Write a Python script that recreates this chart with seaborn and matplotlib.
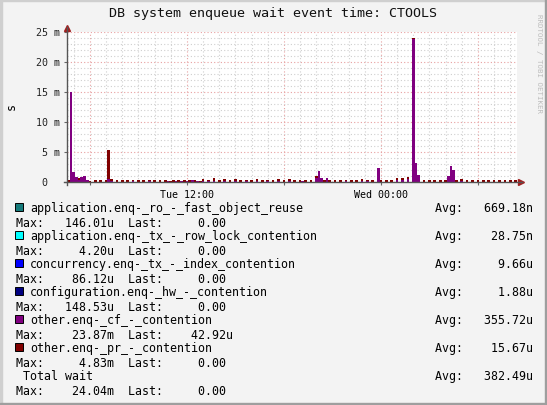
import numpy as np
import pandas as pd
import seaborn as sns
import matplotlib.pyplot as plt
from matplotlib import transforms
from matplotlib.patches import Rectangle
from matplotlib.ticker import MultipleLocator

# time window in hours since Tue 00:00, data in 10 minute bins
t_start = 4 + 35 / 60
t_end = 32 + 25 / 60

# other.enq-_cf_-_contention (ms per bin)
cf = [
    0, 15.0, 1.7, 0.9, 0.4, 0.8, 1.0, 0.3, 0, 0,
    0, 0, 0, 0, 0, 0.45, 0.2, 0, 0, 0,
    0, 0, 0, 0, 0.1, 0, 0, 0, 0, 0,
    0.1, 0, 0, 0, 0, 0, 0, 0.1, 0, 0,
    0.15, 0, 0.2, 0, 0.25, 0, 0.3, 0, 0.2, 0,
    0.2, 0, 0.1, 0, 0.2, 0, 0, 0, 0.1, 0,
    0, 0, 0.2, 0, 0, 0, 0.1, 0, 0, 0,
    0.2, 0, 0, 0, 0.1, 0, 0, 0, 0.2, 0,
    0, 0, 0.1, 0, 0, 0, 0, 0.1, 0, 0,
    0, 0, 0.7, 1.85, 0.7, 0, 0.6, 0, 0, 0,
    0, 0, 0, 0.1, 0, 0, 0, 0, 0, 0.2,
    0, 0.1, 0, 0, 0, 2.35, 0, 0, 0, 0,
    0, 0, 0.4, 0, 0.3, 0, 0.5, 0, 23.87, 3.2,
    1.2, 0, 0, 0, 0, 0, 0, 0, 0, 0,
    0, 1.0, 2.7, 2.0, 0, 0, 0.2, 0, 0, 0,
    0, 0, 0, 0, 0, 0, 0, 0, 0, 0,
    0, 0, 0, 0, 0, 0, 0.05,
]

# other.enq-_pr_-_contention (ms per bin)
pr = [
    0.4, 0, 0, 0, 0.3, 0, 0, 0, 0.2, 0,
    0.4, 0, 0.3, 0, 0.3, 4.83, 0.3, 0, 0.4, 0,
    0.3, 0, 0.35, 0, 0.3, 0, 0.3, 0, 0.3, 0,
    0.25, 0, 0.3, 0, 0.35, 0, 0.3, 0, 0.2, 0.3,
    0, 0.3, 0, 0.35, 0, 0.3, 0, 0.3, 0, 0.2,
    0.3, 0, 0.3, 0, 0.4, 0, 0.3, 0, 0.35, 0,
    0.3, 0, 0.3, 0, 0.35, 0, 0.3, 0, 0.4, 0,
    0.3, 0, 0.3, 0, 0.3, 0, 0.4, 0, 0.3, 0,
    0.3, 0, 0.35, 0, 0.3, 0, 0.3, 0, 0.3, 0,
    0.4, 0, 0.3, 0, 0, 0.3, 0, 0.3, 0, 0.35,
    0, 0.3, 0, 0.3, 0, 0.3, 0, 0.35, 0, 0.3,
    0, 0.3, 0, 0.3, 0, 0, 0.3, 0, 0.3, 0,
    0.35, 0, 0.3, 0, 0.4, 0, 0.3, 0, 0.17, 0,
    0, 0, 0.3, 0, 0.3, 0, 0.3, 0, 0.3, 0,
    0.3, 0, 0, 0, 0.3, 0, 0.3, 0, 0.35, 0,
    0.3, 0, 0.3, 0, 0.4, 0, 0.3, 0, 0.35, 0,
    0.3, 0, 0.3, 0, 0.4, 0, 0.3,
]

names = ['application.enq-_ro_-_fast_object_reuse',
         'application.enq-_tx_-_row_lock_contention',
         'concurrency.enq-_tx_-_index_contention',
         'configuration.enq-_hw_-_contention',
         'other.enq-_cf_-_contention',
         'other.enq-_pr_-_contention']
colors = ['#157a7a', '#00ffff', '#0000ff', '#000080', '#800080', '#800000']
avg_vals = ['669.18n', '28.75n', '9.66u', '1.88u', '355.72u', '15.67u']
max_vals = ['146.01u', '4.20u', '86.12u', '148.53u', '23.87m', '4.83m']
last_vals = ['0.00', '0.00', '0.00', '0.00', '42.92u', '0.00']
total_avg, total_max, total_last = '382.49u', '24.04m', '0.00'

y_ticks = [0, 5, 10, 15, 20, 25]
x_major = [6, 12, 18, 24, 30]
x_labels = ['', 'Tue 12:00', '', 'Wed 00:00', '']

n = len(cf)
df = pd.DataFrame({'hour': t_start + (np.arange(n) + 0.5) / 6,
                   'cf': cf, 'pr': pr})
df['total'] = df['cf'] + df['pr']

mono = 'DejaVu Sans Mono'
plt.rcParams['font.family'] = mono

W, H = 547, 406
fig = plt.figure(figsize=(W / 100, H / 100), dpi=100, facecolor='#f3f3f3')
ax = fig.add_axes([67 / W, 1 - 183 / H, 450 / W, 150 / H])
ax.set_facecolor('white')

# stacked: pr drawn as the total, cf on top of it from the base
sns.histplot(data=df, x='hour', weights='total', bins=n, binrange=(t_start, t_end),
             color='#800000', alpha=1, linewidth=0, ax=ax)
sns.histplot(data=df, x='hour', weights='cf', bins=n, binrange=(t_start, t_end),
             color='#800080', alpha=1, linewidth=0, ax=ax)

ax.set_xlim(t_start, t_end)
ax.set_ylim(0, 25)
ax.set_xlabel('')
ax.set_ylabel('')
ax.set_axisbelow(True)

ax.set_xticks(x_major, labels=x_labels)
ax.xaxis.set_minor_locator(MultipleLocator(1))
ax.set_yticks(y_ticks, labels=[])
ax.yaxis.set_minor_locator(MultipleLocator(1))
ax.grid(which='minor', color='#cfcfcf', linestyle=(0, (1, 2)), linewidth=0.8)
ax.grid(which='major', color='#e8a0a0', linestyle=(0, (1, 2)), linewidth=0.8)
ax.tick_params(which='major', length=2, color='#666666', labelsize=7.2, pad=3)
ax.tick_params(which='minor', length=0)

for side in ['top', 'right']:
    ax.spines[side].set_visible(False)
for side in ['left', 'bottom']:
    ax.spines[side].set_color('#555555')
    ax.spines[side].set_linewidth(1)
ax.spines['left'].set_bounds(-0.5, 25.9)
ax.spines['bottom'].set_bounds(t_start - 0.2, t_end + 0.3)

red = '#a02020'
up = transforms.offset_copy(ax.transAxes, fig, x=0, y=4, units='dots')
rt = transforms.offset_copy(ax.transAxes, fig, x=4, y=0, units='dots')
ax.plot([0], [1], marker='^', color=red, ms=5, transform=up, clip_on=False)
ax.plot([1], [0], marker='>', color=red, ms=5, transform=rt, clip_on=False)

# y tick labels in rrdtool style
blend = transforms.blended_transform_factory(ax.transAxes, ax.transData)
for v in y_ticks:
    lab = f'{v:2d} m' if v else ' 0'
    ax.text((36 - 67) / 450, v, lab, transform=blend, ha='left', va='center',
            fontsize=7.2, color='#222222')

fig.text(273 / W, 1 - 13.5 / H, 'DB system enqueue wait event time: CTOOLS',
         ha='center', va='center', fontsize=9.6, color='#111111')
fig.text(11 / W, 1 - 107 / H, 's', rotation=90, ha='center', va='center',
         fontsize=8.4)
fig.text(539 / W, 1 - 63 / H, 'RRDTOOL / TOBI OETIKER', rotation=270,
         ha='center', va='center', fontsize=5.4, color='#bdbdbd')


def fmt(s):
    return f'{s:>9}' if s[-1].isalpha() else f'{s:>8} '


fs = 8.4
for k, name in enumerate(names):
    yb = 1 - (212.3 + 28 * k) / H
    ym = 1 - (226.7 + 28 * k) / H
    fig.patches.append(Rectangle((15 / W, 1 - (212.3 + 28 * k) / H), 8 / W, 8 / H,
                                 transform=fig.transFigure, facecolor=colors[k],
                                 edgecolor='black', linewidth=0.7))
    fig.text(30 / W, yb, name, fontsize=fs, va='baseline')
    fig.text(435 / W, yb, 'Avg: ' + fmt(avg_vals[k]), fontsize=fs, va='baseline')
    fig.text(16 / W, ym, 'Max: ' + fmt(max_vals[k]) + '  Last: ' + fmt(last_vals[k]),
             fontsize=fs, va='baseline')

yb = 1 - (212.3 + 28 * 6) / H
ym = 1 - (226.7 + 28 * 6) / H
fig.text(16 / W, yb, ' Total wait', fontsize=fs, va='baseline')
fig.text(435 / W, yb, 'Avg: ' + fmt(total_avg), fontsize=fs, va='baseline')
fig.text(16 / W, ym, 'Max: ' + fmt(total_max) + '  Last: ' + fmt(total_last),
         fontsize=fs, va='baseline')

# 3d frame like rrdtool
fig.patches.append(Rectangle((0, 0), 2 / W, 1, transform=fig.transFigure,
                             color='#cfcfcf'))
fig.patches.append(Rectangle((0, 1 - 2 / H), 1, 2 / H, transform=fig.transFigure,
                             color='#cfcfcf'))
fig.patches.append(Rectangle((1 - 2 / W, 0), 2 / W, 1, transform=fig.transFigure,
                             color='#9e9e9e'))
fig.patches.append(Rectangle((0, 0), 1, 2 / H, transform=fig.transFigure,
                             color='#9e9e9e'))

fig.savefig('out.png', dpi=100, facecolor=fig.get_facecolor())
